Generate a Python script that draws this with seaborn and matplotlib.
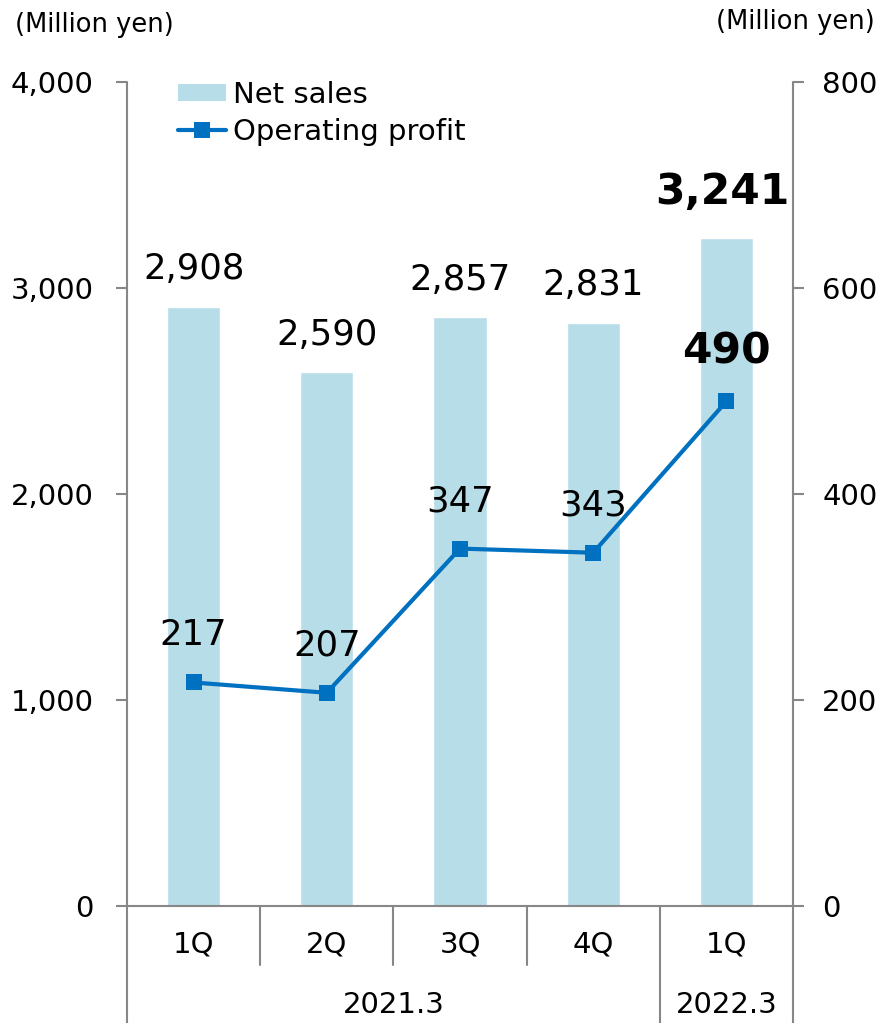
import numpy as np
import pandas as pd
import matplotlib
matplotlib.use("Agg")
import matplotlib.pyplot as plt
import matplotlib.transforms as mtransforms
from matplotlib.lines import Line2D
from matplotlib.patches import Patch
import seaborn as sns

# data
quarters = ["1Q", "2Q", "3Q", "4Q", "1Q"]
fiscal_years = ["2021.3", "2021.3", "2021.3", "2021.3", "2022.3"]
net_sales = [2908, 2590, 2857, 2831, 3241]
op_profit = [217, 207, 347, 343, 490]
left_ticks = [0, 1000, 2000, 3000, 4000]
right_ticks = [0, 200, 400, 600, 800]

BAR_COLOR = "#B7DDE8"
LINE_COLOR = "#0070C0"
AXIS_GRAY = "#878787"

sns.set_style("white")
plt.rcParams["font.family"] = ["DejaVu Sans"]
plt.rcParams["text.color"] = "black"
plt.rcParams["ytick.labelcolor"] = "black"

df = pd.DataFrame({"pos": np.arange(len(quarters)), "quarter": quarters,
                   "fy": fiscal_years, "sales": net_sales, "profit": op_profit})

fig = plt.figure(figsize=(8.83, 10.23), dpi=100)
ax = fig.add_axes([127 / 883, 1 - 906 / 1023, 666 / 883, 824 / 1023])

sns.barplot(data=df, x="pos", y="sales", ax=ax, color=BAR_COLOR, width=0.4,
            saturation=1)
ax2 = ax.twinx()
sns.lineplot(data=df, x="pos", y="profit", ax=ax2, color=LINE_COLOR,
             linewidth=3, marker="s", markersize=11, markeredgewidth=0)

ax.set_xlim(-0.5, len(quarters) - 0.5)
ax.set_ylim(0, 4000)
ax2.set_ylim(0, 800)
ax.set_yticks(left_ticks)
ax.set_yticklabels([f"{t:,}" for t in left_ticks])
ax2.set_yticks(right_ticks)
ax2.set_yticklabels([f"{t:,}" for t in right_ticks])
ax.set_xticks([])
ax.set_xlabel("")
ax.set_ylabel("")
ax2.set_ylabel("")
ax2.set_xlabel("")

for a in (ax, ax2):
    for s in a.spines.values():
        s.set_visible(False)
ax.tick_params(axis="y", length=8, width=1.5, color=AXIS_GRAY, pad=16,
               labelsize=21, labelcolor="black", left=True)
ax2.tick_params(axis="y", length=8, width=1.5, color=AXIS_GRAY, pad=13,
                labelsize=21, labelcolor="black", right=True)

# axis frame lines (spines extend below into the category table)
trans = mtransforms.blended_transform_factory(ax.transData, ax.transAxes)
bottom_fig = -117 / 824
ax.plot([-0.5, len(quarters) - 0.5], [0, 0], transform=trans, color=AXIS_GRAY,
        lw=1.5, clip_on=False, zorder=5)
for xb in [-0.5, len(quarters) - 0.5]:
    ax.plot([xb, xb], [1, bottom_fig], transform=trans, color=AXIS_GRAY,
            lw=1.5, clip_on=False, zorder=5)
# category separators
for i in range(len(quarters) - 1):
    full = fiscal_years[i] != fiscal_years[i + 1]
    ax.plot([i + 0.5, i + 0.5], [0, bottom_fig if full else -59 / 824],
            transform=trans, color=AXIS_GRAY, lw=1.5, clip_on=False)

# category labels
for i, q in enumerate(quarters):
    ax.text(i, -39 / 824, q, transform=trans, ha="center", va="center",
            fontsize=21)
for fy in dict.fromkeys(fiscal_years):
    idx = [i for i, f in enumerate(fiscal_years) if f == fy]
    ax.text(np.mean(idx), -99 / 824, fy, transform=trans, ha="center",
            va="center", fontsize=21)

# value labels
last = len(quarters) - 1
for i, v in enumerate(net_sales):
    bold = i == last
    ax.annotate(f"{v:,}", (i, v), xytext=(-3 if bold else 0, 18 if bold else 15),
                textcoords="offset points", ha="center", va="bottom",
                fontsize=30.5 if bold else 25.5,
                fontweight="bold" if bold else "normal")
for i, v in enumerate(op_profit):
    bold = i == last
    ax2.annotate(f"{v:,}", (i, v), xytext=(0, 21 if bold else 22),
                 textcoords="offset points", ha="center", va="bottom",
                 fontsize=30.5 if bold else 25.5,
                 fontweight="bold" if bold else "normal", zorder=6)

# units
fig.text(15 / 883, 1 - 25 / 1023, "(Million yen)", ha="left", va="center",
         fontsize=18.5)
fig.text(875 / 883, 1 - 22 / 1023, "(Million yen)", ha="right", va="center",
         fontsize=18.5)

handles = [Patch(facecolor=BAR_COLOR, edgecolor="none"),
           Line2D([], [], color=LINE_COLOR, lw=3, marker="s", markersize=11,
                  markeredgewidth=0)]
fig.legend(handles, ["Net sales", "Operating profit"], loc="upper left",
           bbox_to_anchor=(178 / 883, 1 - 81 / 1023), frameon=False,
           fontsize=21, handlelength=1.65, handleheight=0.5, handletextpad=0.25,
           labelspacing=0.3, borderpad=0, borderaxespad=0)

fig.savefig("out.png", dpi=100)
